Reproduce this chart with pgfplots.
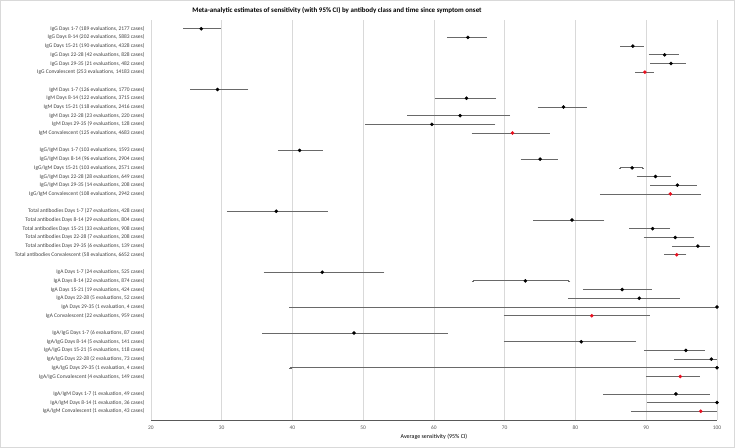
\documentclass[border=0pt]{standalone}
\usepackage{pgfplots}
\pgfplotsset{compat=1.18}
\usepackage{pgfplotstable}
\usepackage{fontspec}
\setmainfont{Carlito}
\definecolor{barcol}{RGB}{105,105,105}
\definecolor{gridcol}{RGB}{217,217,217}
\definecolor{axcol}{RGB}{89,89,89}
\definecolor{labcol}{RGB}{64,64,64}
\definecolor{redpt}{RGB}{232,16,32}

\pgfplotstableread{
r v lo hi
0 27.1 24.7 29.7
1 64.8 62.0 67.3
2 88.1 86.5 89.5
3 92.6 90.5 94.4
4 93.5 90.7 95.4
7 29.4 25.7 33.6
8 64.6 60.3 68.6
9 78.3 74.8 81.4
10 63.7 56.4 70.6
11 59.7 50.4 68.5
14 41.0 38.1 44.1
15 75.0 72.4 77.3
16 88.0 86.3 89.5
17 91.3 88.8 93.3
18 94.4 90.7 97.0
21 37.7 30.9 44.8
22 79.5 74.2 83.9
23 90.9 87.8 93.2
24 94.1 89.8 96.6
25 97.3 93.8 98.8
28 44.2 36.1 52.8
29 72.9 65.5 79.1
30 86.6 81.2 90.6
31 89.0 79.1 94.6
32 100.0 39.7 100.0
35 48.7 35.9 61.8
36 80.8 70.0 88.4
37 95.6 89.9 98.1
38 99.2 94.1 99.9
39 100.0 39.7 100.0
42 94.2 84.1 98.8
43 100.0 90.3 100.0
}\maintab

\pgfplotstableread{
r v lo hi
5 89.8 88.6 90.9
12 71.1 65.5 76.2
19 93.4 83.6 97.5
26 94.3 92.7 95.5
33 82.3 70.0 90.3
40 94.8 90.1 97.4
44 97.7 88.0 99.9
}\convtab

\begin{document}
\begin{tikzpicture}
\begin{axis}[
  name=ax,
  scale only axis,
  width=566bp, height=400bp,
  xmin=20, xmax=100,
  ymin=-1, ymax=45,
  y dir=reverse,
  xtick={20,30,...,100},
  ytick={0,1,2,3,4,5,7,8,9,10,11,12,14,15,16,17,18,19,21,22,23,24,25,26,28,29,30,31,32,33,35,36,37,38,39,40,42,43,44},
  yticklabels={
    {IgG Days 1-7 (189 evaluations, 2177 cases)},
    {IgG Days 8-14 (202 evaluations, 5883 cases)},
    {IgG Days 15-21 (190 evaluations, 4328 cases)},
    {IgG Days 22-28 (42 evaluations, 828 cases)},
    {IgG Days 29-35 (21 evaluations, 482 cases)},
    {IgG Convalescent (253 evaluations, 14183 cases)},
    {IgM Days 1-7 (126 evaluations, 1770 cases)},
    {IgM Days 8-14 (122 evaluations, 3715 cases)},
    {IgM Days 15-21 (118 evaluations, 2416 cases)},
    {IgM Days 22-28 (23 evaluations, 220 cases)},
    {IgM Days 29-35 (9 evaluations, 128 cases)},
    {IgM Convalescent (125 evaluations, 4683 cases)},
    {IgG/IgM Days 1-7 (103 evaluations, 1593 cases)},
    {IgG/IgM Days 8-14 (96 evaluations, 2904 cases)},
    {IgG/IgM Days 15-21 (103 evaluations, 2571 cases)},
    {IgG/IgM Days 22-28 (28 evaluations, 649 cases)},
    {IgG/IgM Days 29-35 (14 evaluations, 208 cases)},
    {IgG/IgM Convalescent (108 evaluations, 2942 cases)},
    {Total antibodies Days 1-7 (27 evaluations, 428 cases)},
    {Total antibodies Days 8-14 (29 evaluations, 804 cases)},
    {Total antibodies Days 15-21 (33 evaluations, 908 cases)},
    {Total antibodies Days 22-28 (7 evaluations, 208 cases)},
    {Total antibodies Days 29-35 (6 evaluations, 139 cases)},
    {Total antibodies Convalescent (58 evaluations, 6652 cases)},
    {IgA Days 1-7 (24 evaluations, 525 cases)},
    {IgA Days 8-14 (22 evaluations, 874 cases)},
    {IgA Days 15-21 (19 evaluations, 424 cases)},
    {IgA Days 22-28 (5 evaluations, 52 cases)},
    {IgA Days 29-35 (1 evaluation, 4 cases)},
    {IgA Convalescent (22 evaluations, 959 cases)},
    {IgA/IgG Days 1-7 (6 evaluations, 87 cases)},
    {IgA/IgG Days 8-14 (5 evaluations, 141 cases)},
    {IgA/IgG Days 15-21 (5 evaluations, 118 cases)},
    {IgA/IgG Days 22-28 (2 evaluations, 73 cases)},
    {IgA/IgG Days 29-35 (1 evaluation, 4 cases)},
    {IgA/IgG Convalescent (4 evaluations, 149 cases)},
    {IgA/IgM Days 1-7 (1 evaluation, 49 cases)},
    {IgA/IgM Days 8-14 (1 evaluation, 36 cases)},
    {IgA/IgM Convalescent (1 evaluation, 43 cases)}
  },
  /pgf/number format/assume math mode=true,
  tick label style={font=\fontsize{5.5}{6}\selectfont},
  yticklabel style={text=labcol, anchor=east, xshift=-3bp},
  xticklabel style={text=axcol, anchor=center, yshift=-8bp},
  major tick length=0pt,
  xmajorgrids,
  grid style={gridcol, line width=0.6bp},
  axis x line*=bottom,
  axis y line*=left,
  x axis line style={draw=axcol, line width=1bp, -},
  y axis line style={draw=gridcol, line width=0.6bp, -},
  xlabel={Average sensitivity (95\% CI)},
  xlabel style={font=\fontsize{6}{7}\selectfont, text=black, at={(axis description cs:0.5,0)}, anchor=center, yshift=-17bp},
  clip=false,
]
\addplot[only marks, mark=*, mark size=1.6bp, mark options={fill=black, draw=black},
  error bars/.cd, x dir=both, x explicit,
  error bar style={barcol, line width=0.8bp},
  error mark options={barcol, line width=0.6bp, mark size=1.2bp}]
  table[x=v, y=r, x error plus expr={\thisrow{hi}-\thisrow{v}}, x error minus expr={\thisrow{v}-\thisrow{lo}}] {\maintab};
\addplot[only marks, mark=*, mark size=1.6bp, mark options={fill=redpt, draw=redpt},
  error bars/.cd, x dir=both, x explicit,
  error bar style={barcol, line width=0.8bp},
  error mark options={barcol, line width=0.6bp, mark size=1.2bp}]
  table[x=v, y=r, x error plus expr={\thisrow{hi}-\thisrow{v}}, x error minus expr={\thisrow{v}-\thisrow{lo}}] {\convtab};
\end{axis}
\node[font=\bfseries\fontsize{7}{8}\selectfont, anchor=center] at (186bp,410bp) {Meta-analytic estimates of sensitivity (with 95\% CI) by antibody class and time since symptom onset};
\draw[gridcol, line width=0.8bp] (-150.6bp,-27.6bp) rectangle (583.6bp,419.6bp);
\useasboundingbox (-151bp,-28bp) rectangle (584bp,420bp);
\end{tikzpicture}
\end{document}
